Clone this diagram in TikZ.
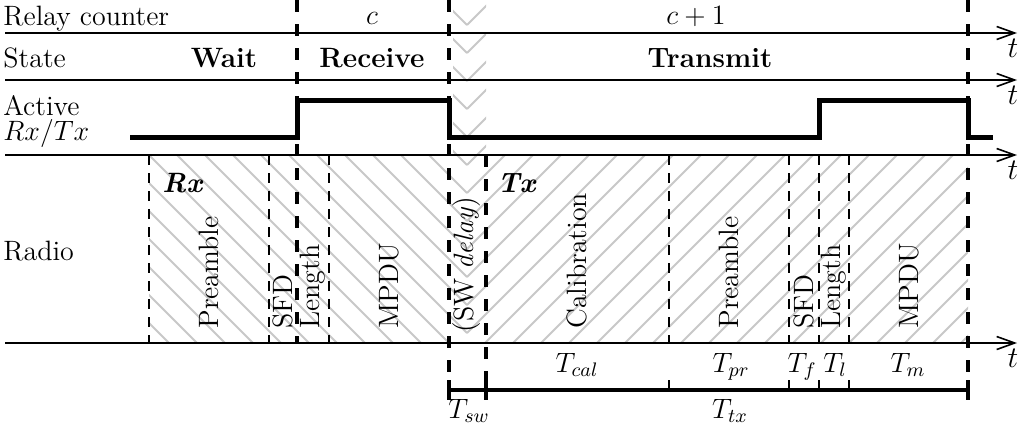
\documentclass[tikz,border=0pt]{standalone}
\usepackage{fix-cm}
\usepackage{fontspec}
\usetikzlibrary{arrows.meta, positioning}

\definecolor{HatchGray}{RGB}{200, 200, 200}

\begin{document}
\begin{tikzpicture}[
    x=0.5pt, y=-0.5pt,
    every node/.style={font=\fontsize{14}{17}\selectfont, inner sep=0pt},
    timeaxis/.style={line width=0.8pt, -{Straight Barb[length=9pt, width=6.5pt]}},
    tlabel/.style={anchor=north, font=\fontsize{15}{17}\selectfont},
    sigline/.style={line width=2.5pt},
    bigdash/.style={line width=2pt, dash pattern=on 6pt off 6pt},
    smalldash/.style={line width=0.7pt, dash pattern=on 5pt off 4pt},
    hatch/.style={HatchGray, line width=1pt},
    rowlabel/.style={anchor=base west},
    statelabel/.style={anchor=base, font=\fontsize{14}{17}\selectfont\bfseries},
    fieldlabel/.style={rotate=90, anchor=west},
    durlabel/.style={anchor=base},
    spanline/.style={line width=2pt},
    bigtick/.style={line width=2pt},
    smalltick/.style={line width=0.7pt}
]
\useasboundingbox (0,0) rectangle (1020,430);

% hatching of the radio row (Rx and Tx), meeting in the SW delay column
\begin{scope}
  \clip (149,155) rectangle (467,343) (453,0) rectangle (467,155);
  \foreach \a in {-3,25,...,865}
    \draw[hatch] (467,\a) -- ++(-700,-700);
\end{scope}
\begin{scope}
  \clip (467,155) rectangle (968,343) (467,0) rectangle (486,155);
  \foreach \a in {-3,25,...,865}
    \draw[hatch] (467,\a) -- ++(700,-700);
\end{scope}

% time axes
\coordinate (ax1s) at (5,33);  \coordinate (ax1e) at (1017,33);
\coordinate (ax2s) at (5,80);  \coordinate (ax2e) at (1017,80);
\coordinate (ax3s) at (5,155); \coordinate (ax3e) at (1017,155);
\coordinate (ax4s) at (5,343); \coordinate (ax4e) at (1017,343);
\draw[timeaxis] (ax1s) -- (ax1e);
\draw[timeaxis] (ax2s) -- (ax2e);
\draw[timeaxis] (ax3s) -- (ax3e);
\draw[timeaxis] (ax4s) -- (ax4e);
\node[tlabel] (t1) at (1013,39) {$t$};
\node[tlabel] (t2) at (1013,86) {$t$};
\node[tlabel] (t3) at (1013,161) {$t$};
\node[tlabel] (t4) at (1013,349) {$t$};

% row labels
\node[rowlabel] (relay) at (3,25) {Relay counter};
\node[rowlabel] (state) at (3,67) {State};
\node[rowlabel] (active) at (3,115) {Active};
\node[rowlabel] (rxtx) at (3,140) {$Rx/Tx$};
\node[rowlabel] (radio) at (3,260) {Radio};

% counter and state
\node[durlabel] (cnt) at (372,24) {$c$};
\node[durlabel] (cntnext) at (696,24) {$c+1$};
\node[statelabel] (wait) at (224,67) {Wait};
\node[statelabel] (receive) at (372,67) {Receive};
\node[statelabel] (transmit) at (710,67) {Transmit};

% active Rx/Tx
\draw[sigline] (130,137) -- (297,137) -- (297,100) -- (449,100) -- (449,137)
  -- (819,137) -- (819,100) -- (968,100) -- (968,137) -- (993,137);

% phase borders
\draw[bigdash] (297,0) -- (297,343);
\draw[bigdash] (449,0) -- (449,380);
\draw[bigdash] (486,155) -- (486,380);
\draw[bigdash] (968,0) -- (968,380);
\foreach \x in {149,269,329,669,789,819,849}
  \draw[smalldash] (\x,155) -- (\x,343);

% radio fields
\node[anchor=base west] (rx) at (162,192) {\textbf{\textit{Rx}}};
\node[anchor=base west] (tx) at (497,192) {\textbf{\textit{Tx}}};
\foreach \x/\txt in {209/Preamble, 283/SFD, 313/Length, 389/MPDU,
    577/Calibration, 729/Preamble, 804/SFD, 834/Length, 909/MPDU}
  \node[fieldlabel] (f\x) at (\x,329) {\txt};
\node[fieldlabel] (swdelay) at (467,333) {(SW \textit{delay})};

% durations
\coordinate (sw0) at (449,390);
\coordinate (sw1) at (486,390);
\coordinate (txend) at (968,390);
\draw[spanline] (sw0) -- (sw1) -- (txend);
\foreach \x in {449,486,968}
  \draw[bigtick] (\x,380) -- (\x,400);
\foreach \x in {669,789,819,849}
  \draw[smalltick] (\x,380) -- (\x,390);
\node[durlabel] (tcal) at (577,372) {$T_{cal}$};
\node[durlabel] (tpr) at (731,372) {$T_{pr}$};
\node[durlabel] (tf) at (802,372) {$T_f$};
\node[durlabel] (tl) at (835,372) {$T_l$};
\node[durlabel] (tm) at (908,372) {$T_m$};
\node[durlabel] (tsw) at (469,418) {$T_{sw}$};
\node[durlabel] (ttx) at (730,418) {$T_{tx}$};
\end{tikzpicture}
\end{document}
